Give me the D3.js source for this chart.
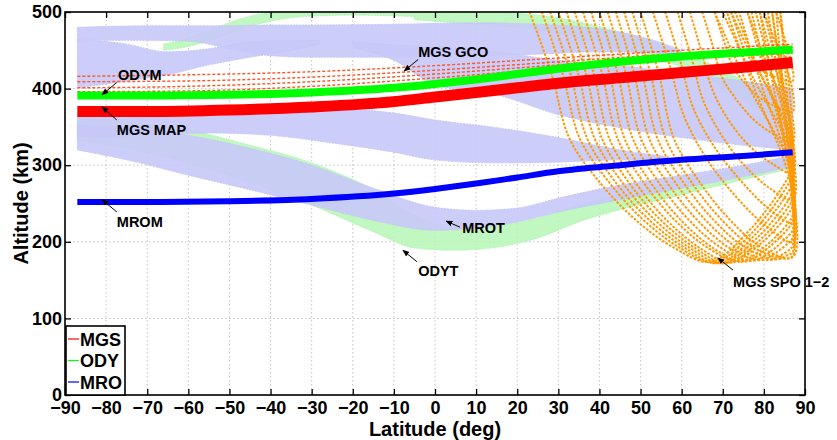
<!DOCTYPE html>
<html>
<head>
<meta charset="utf-8">
<script src="https://cdn.jsdelivr.net/npm/d3@7"></script>
<style>
  body { margin: 0; background: #fff; }
  text { font-family: "Liberation Sans", Arial, sans-serif; font-weight: bold; }
</style>
</head>
<body>
<script>
// mapping orbits (solid thick lines)
var mapLat = [-87, -70, -50, -30, -10, 0, 10, 20, 30, 45, 60, 75, 87];
var mgsMap = [370, 370, 372, 376, 383, 389, 395, 401, 407, 414, 421, 428, 434];
var odyMap = [391, 391, 392, 395, 401, 406, 412, 419, 426, 435, 442, 447, 451];
var mroMap = [252, 252, 253, 256, 263, 269, 276, 284, 292, 300, 307, 312, 317];

// MGS GCO dashed tracks
var gcoLat = [-87, -60, -30, 0, 30, 60, 87];
var gco1 = [416, 418, 422, 430, 440, 450, 458];
var gco2 = [409, 410, 415, 424, 435, 446, 454];
var gco3 = [401, 403, 409, 419, 431, 443, 450];
var gco4 = [396, 397, 403, 414, 427, 439, 446];

// MRO transition bands (upper / lower altitude)
var mroTopLat = [-87, -70, -60, -50, -40, -30, -10, 10, 25, 40, 52, 60];
var mroTopHi  = [480, 482, 482, 482, 483, 483, 484, 486, 484, 478, 465, 450];
var mroTopLo  = [463, 463, 462, 452, 443, 441, 441, 443, 445, 448, 447, 443];
var mroRiseLat = [-87, -76, -65, -55, -45, -35, -28];
var mroRiseHi  = [464, 459, 448, 452, 461, 463, 463];
var mroRiseLo  = [401, 409, 418, 431, 441, 450, 458];
var mroFallLat = [-20, -10, 0, 15, 30, 45, 60, 75, 87];
var mroFallHi  = [461, 457, 454, 448, 437, 430, 420, 410, 400];
var mroFallLo  = [454, 437, 405, 392, 366, 349, 336, 326, 320];
var mroMidLat = [-87, -70, -55, -40, -25, -10, 0, 15, 30, 45, 57];
var mroMidHi  = [368, 368, 372, 377, 375, 368, 359, 349, 336, 320, 311];
var mroMidLo  = [336, 339, 342, 339, 329, 317, 307, 303, 304, 307, 303];
var mroLowLat = [-87, -75, -60, -45, -30, -15, 0, 10, 20, 30, 45, 60, 75, 87];
var mroLowHi  = [352, 349, 339, 322, 300, 270, 245, 241, 244, 257, 274, 287, 300, 313];
var mroLowLo  = [320, 307, 287, 268, 248, 228, 215, 218, 226, 239, 255, 270, 285, 298];

// ODY transition bands
var odyLowLat = [-87, -75, -60, -45, -30, -15, -5, 5, 15, 25, 35, 45, 55, 65, 75, 87];
var odyLowHi  = [362, 356, 346, 326, 303, 268, 235, 218, 221, 231, 248, 261, 274, 285, 296, 313];
var odyLowLo  = [333, 322, 303, 278, 248, 213, 192, 189, 193, 205, 226, 242, 255, 268, 281, 296];
var odyUpLat = [-66, -60, -54, -48, -40, -32, -20, -5];
var odyUpHi  = [458, 466, 478, 490, 500, 504, 505, 505];
var odyUpLo  = [450, 455, 464, 476, 488, 494, 496, 494];
var odyDownLat = [-5, 10, 25, 35, 45, 55, 65, 75, 87];
var odyDownHi  = [500, 500, 496, 487, 474, 457, 437, 411, 385];
var odyDownLo  = [490, 484, 477, 466, 453, 437, 418, 385, 352];

// MGS SPO 1-2 tracks, [lat, alt]
var spoTracks = [
  [[23,500],[28.3,420],[32.7,335],[39.7,280],[48.5,230],[58.2,192],[67,174],[77,218],[86,285],[87,300],[86.5,360],[82.8,440],[80,500]],
  [[26,500],[31,420],[35.2,335],[42,280],[50.4,230],[59.6,192],[68,173],[77.5,214],[86,276],[87,290],[86.5,353],[80.4,437],[76,500]],
  [[28,500],[32.9,420],[37,335],[43.6,280],[51.8,230],[60.8,192],[69,172],[78,210],[86,266],[87,280],[86.5,346],[84,430],[82,500]],
  [[30,500],[34.8,420],[38.8,335],[45.2,280],[53.2,230],[62,192],[70,172],[78.5,206],[86,255],[87,268],[86.5,338],[78,430],[72,500]],
  [[32,500],[36.7,420],[40.6,335],[46.8,280],[54.6,230],[63.2,192],[71,172],[79,202],[86,246],[87,258],[86.5,331],[81.6,427],[78,500]],
  [[34,500],[38.6,420],[42.4,335],[48.4,280],[56,230],[64.4,192],[72,173],[79.5,199],[86,237],[87,248],[86.5,324],[85.2,424],[84,500]],
  [[36,500],[40.6,420],[44.4,335],[50.4,280],[58,230],[66.4,192],[74,174],[80.5,195],[86,225],[87,235],[86.5,315],[76.8,420],[70,500]],
  [[38,500],[42.4,420],[46.1,335],[52.1,280],[59.5,230],[67.6,192],[75,174],[81,192],[86,218],[87,226],[86.5,308],[80.4,418],[76,500]],
  [[40,500],[44.4,420],[48.1,335],[54.1,280],[61.5,230],[69.6,192],[77,175],[82,189],[86,208],[87,215],[86.5,300],[83.4,415],[81,500]],
  [[42,500],[46.4,420],[50.1,335],[56.1,280],[63.5,230],[71.6,192],[79,176],[83,186],[86,199],[87,205],[86.5,294],[75.6,410],[68,500]],
  [[44,500],[48.4,420],[52.1,335],[58.1,280],[65.5,230],[73.6,192],[81,176],[84,182],[86.5,191],[87,195],[86.5,287],[79.2,408],[74,500]],
  [[46,500],[50.4,420],[54.1,335],[60.1,280],[67.5,230],[75.6,192],[83,177],[85.5,182],[87,187],[86.5,281],[82.2,406],[79,500]],
  [[48,500],[52.4,420],[56.1,335],[62.1,280],[69.5,230],[77.6,192],[85,178],[87,182],[86.5,277],[84.6,405],[83,500]],
  [[50,500],[54.4,420],[58.1,335],[64.1,280],[71.5,230],[79.6,192],[87,180],[86.5,276],[77.4,404],[71,500]],
  [[53,500],[57.1,430],[60.5,365],[65.9,310],[72.7,262],[80.2,222],[87,200],[86.5,290],[81,410],[77,500]],
  [[56,500],[59.7,435],[62.8,375],[67.8,325],[74,282],[80.8,245],[87,225],[86.5,308],[84,418],[82,500]],
  [[59,500],[62.4,440],[65.2,385],[69.6,340],[75.2,300],[81.4,270],[87,255],[86.5,329],[78.6,427],[73,500]],
  [[62,500],[65,445],[67.5,398],[71.5,358],[76.5,325],[82,302],[87,290],[86.5,353],[82.2,437],[79,500]],
  [[65,500],[67.6,455],[69.8,415],[73.4,385],[77.8,358],[82.6,340],[87,330],[86.5,381],[85.2,449],[84,500]],
  [[68,500],[70.3,462],[72.2,432],[75.2,408],[79,388],[83.2,376],[87,370],[86.5,409],[82.8,461],[80,500]],
  [[72,500],[73.8,472],[75.3,450],[77.7,432],[80.7,420],[84,413],[87,410],[86.5,437],[84.6,473],[83,500]]
];

// legend and axis ticks
var legendNames = ['MGS', 'ODY', 'MRO'];
var legendColors = ['#ff0000', '#00ff00', '#0000ff'];
var latTicks = d3.range(-90, 91, 10);
var altTicks = [0, 100, 200, 300, 400, 500];

// annotations: text position and arrow (tail -> head), in lat/alt
var notes = [
  { text: 'ODYM',        lat: -77.1, alt: 411,   from: [-77.4, 408], to: [-81.0, 392] },
  { text: 'MGS MAP',     lat: -77.4, alt: 339,   from: [-77.4, 359], to: [-81.0, 376] },
  { text: 'MGS GCO',     lat: -4.1,  alt: 441,   from: [-4.1, 438],  to: [-7.5, 423] },
  { text: 'MROM',        lat: -77.4, alt: 219,   from: [-77.4, 239], to: [-81.0, 255] },
  { text: 'MROT',        lat: 6.6,   alt: 211.5, from: [6.1, 219],   to: [2.7, 227] },
  { text: 'ODYT',        lat: -4.1,  alt: 155,   from: [-4.4, 174],  to: [-7.8, 189] },
  { text: 'MGS SPO 1\u22122', lat: 72.5, alt: 141, from: [72.5, 163], to: [68.8, 179] }
];

var width = 837, height = 440;
var margins = { top: 12, left: 65, right: 32, bottom: 45 };
var plotW = width - margins.left - margins.right;
var plotH = height - margins.top - margins.bottom;

var svg = d3.select('body').append('svg')
  .attr('width', width)
  .attr('height', height);

var xScale = d3.scaleLinear().domain([-90, 90]).range([margins.left, margins.left + plotW]);
var yScale = d3.scaleLinear().domain([0, 500]).range([margins.top + plotH, margins.top]);

var defs = svg.append('defs');
defs.append('clipPath').attr('id', 'plotclip')
  .append('rect')
  .attr('x', margins.left).attr('y', margins.top)
  .attr('width', plotW).attr('height', plotH);
defs.append('marker')
  .attr('id', 'head')
  .attr('viewBox', '0 0 10 10')
  .attr('refX', 9).attr('refY', 5)
  .attr('markerWidth', 7).attr('markerHeight', 7)
  .attr('markerUnits', 'userSpaceOnUse')
  .attr('orient', 'auto')
  .append('path').attr('d', 'M0,1 L10,5 L0,9 Z').attr('fill', '#000');

// grid
var grid = svg.append('g').attr('class', 'grid');
grid.selectAll('line.gx').data(latTicks).enter().append('line')
  .attr('class', 'gx')
  .attr('x1', function(d){ return xScale(d); })
  .attr('x2', function(d){ return xScale(d); })
  .attr('y1', margins.top).attr('y2', margins.top + plotH)
  .attr('stroke', '#c4c4c4').attr('stroke-width', 1).attr('stroke-dasharray', '1.5,2.5');
grid.selectAll('line.gy').data(altTicks).enter().append('line')
  .attr('class', 'gy')
  .attr('y1', function(d){ return yScale(d); })
  .attr('y2', function(d){ return yScale(d); })
  .attr('x1', margins.left).attr('x2', margins.left + plotW)
  .attr('stroke', '#c4c4c4').attr('stroke-width', 1).attr('stroke-dasharray', '1.5,2.5');

var plot = svg.append('g').attr('clip-path', 'url(#plotclip)');

var band = function(lat, hi, lo){
  return lat.map(function(d, i){ return { lat: d, hi: hi[i], lo: lo[i] }; });
};
var area = d3.area()
  .x(function(d){ return xScale(d.lat); })
  .y0(function(d){ return yScale(d.lo); })
  .y1(function(d){ return yScale(d.hi); })
  .curve(d3.curveMonotoneX);

var odyBands = [
  band(odyLowLat, odyLowHi, odyLowLo),
  band(odyUpLat, odyUpHi, odyUpLo),
  band(odyDownLat, odyDownHi, odyDownLo)
];
var mroBands = [
  band(mroTopLat, mroTopHi, mroTopLo),
  band(mroRiseLat, mroRiseHi, mroRiseLo),
  band(mroFallLat, mroFallHi, mroFallLo),
  band(mroMidLat, mroMidHi, mroMidLo),
  band(mroLowLat, mroLowHi, mroLowLo)
];

plot.selectAll('path.ody').data(odyBands).enter().append('path')
  .attr('class', 'ody')
  .attr('d', area)
  .attr('fill', '#b6f6b6').attr('fill-opacity', 0.85)
  .attr('stroke', '#b6f6b6').attr('stroke-width', 1).attr('stroke-dasharray', '2,1');
plot.selectAll('path.mro').data(mroBands).enter().append('path')
  .attr('class', 'mro')
  .attr('d', area)
  .attr('fill', '#c8c8f8').attr('fill-opacity', 0.9)
  .attr('stroke', '#c8c8f8').attr('stroke-width', 1).attr('stroke-dasharray', '2,1');

// SPO tracks
var trackLine = d3.line()
  .x(function(d){ return xScale(d[0]); })
  .y(function(d){ return yScale(d[1]); })
  .curve(d3.curveCatmullRom.alpha(0.5));
plot.selectAll('path.spo').data(spoTracks).enter().append('path')
  .attr('class', 'spo')
  .attr('d', trackLine)
  .attr('fill', 'none')
  .attr('stroke', '#ff9900').attr('stroke-width', 2).attr('stroke-dasharray', '2.5,1.5');

// GCO tracks
var gcoLine = d3.line()
  .x(function(d, i){ return xScale(gcoLat[i]); })
  .y(function(d){ return yScale(d); })
  .curve(d3.curveMonotoneX);
plot.selectAll('path.gco').data([gco1, gco2, gco3, gco4]).enter().append('path')
  .attr('class', 'gco')
  .attr('d', gcoLine)
  .attr('fill', 'none')
  .attr('stroke', '#ff5522').attr('stroke-width', 1.4).attr('stroke-dasharray', '3,2');

// mapping orbits
var mapLine = d3.line()
  .x(function(d, i){ return xScale(mapLat[i]); })
  .y(function(d){ return yScale(d); })
  .curve(d3.curveMonotoneX);
var maps = [
  { vals: mroMap, color: '#0000ff', w: 6 },
  { vals: mgsMap, color: '#ff0000', w: 11 },
  { vals: odyMap, color: '#00ff00', w: 8 }
];
plot.selectAll('path.map').data(maps).enter().append('path')
  .attr('class', 'map')
  .attr('d', function(d){ return mapLine(d.vals); })
  .attr('fill', 'none')
  .attr('stroke', function(d){ return d.color; })
  .attr('stroke-width', function(d){ return d.w; });

// box and inward ticks
svg.append('rect')
  .attr('x', margins.left).attr('y', margins.top)
  .attr('width', plotW).attr('height', plotH)
  .attr('fill', 'none').attr('stroke', '#000').attr('stroke-width', 1.6);

var xAxis = d3.axisBottom(xScale).tickValues(latTicks).tickSizeInner(-6).tickSizeOuter(0).tickPadding(6);
var yAxis = d3.axisLeft(yScale).tickValues(altTicks).tickSizeInner(-6).tickSizeOuter(0).tickPadding(3);
var gx = svg.append('g').attr('transform', 'translate(0,' + (margins.top + plotH) + ')').call(xAxis);
var gy = svg.append('g').attr('transform', 'translate(' + margins.left + ',0)').call(yAxis);
svg.append('g').attr('transform', 'translate(0,' + margins.top + ')')
  .call(d3.axisTop(xScale).tickValues(latTicks).tickSizeInner(-6).tickSizeOuter(0).tickFormat(''));
svg.append('g').attr('transform', 'translate(' + (margins.left + plotW) + ',0)')
  .call(d3.axisRight(yScale).tickValues(altTicks).tickSizeInner(-6).tickSizeOuter(0).tickFormat(''));
svg.selectAll('.domain').remove();
svg.selectAll('.tick line').attr('stroke', '#000').attr('stroke-width', 1.3);
gx.selectAll('text').attr('font-size', 18).attr('fill', '#000');
gy.selectAll('text').attr('font-size', 18).attr('fill', '#000');

// axis labels
svg.append('text')
  .attr('x', xScale(0)).attr('y', 436)
  .attr('text-anchor', 'middle').attr('font-size', 20)
  .text('Latitude (deg)');
svg.append('text')
  .attr('transform', 'translate(28,' + yScale(250) + ') rotate(-90)')
  .attr('text-anchor', 'middle').attr('font-size', 20)
  .text('Altitude (km)');

// annotations
var ann = svg.append('g');
ann.selectAll('line').data(notes).enter().append('line')
  .attr('x1', function(d){ return xScale(d.from[0]); })
  .attr('y1', function(d){ return yScale(d.from[1]); })
  .attr('x2', function(d){ return xScale(d.to[0]); })
  .attr('y2', function(d){ return yScale(d.to[1]); })
  .attr('stroke', '#000').attr('stroke-width', 1)
  .attr('marker-end', 'url(#head)');
ann.selectAll('text').data(notes).enter().append('text')
  .attr('x', function(d){ return xScale(d.lat); })
  .attr('y', function(d){ return yScale(d.alt); })
  .attr('font-size', 14.5)
  .text(function(d){ return d.text; });

// legend
var legend = svg.append('g');
legend.append('rect')
  .attr('x', 66).attr('y', 326).attr('width', 59).attr('height', 69)
  .attr('fill', '#fff').attr('stroke', '#000').attr('stroke-width', 1.6);
legendNames.forEach(function(name, i){
  var yy = 339 + i * 21.5;
  legend.append('line')
    .attr('x1', 68).attr('x2', 79).attr('y1', yy).attr('y2', yy)
    .attr('stroke', legendColors[i]).attr('stroke-width', 1.2);
  legend.append('text')
    .attr('x', 80).attr('y', yy + 6.5)
    .attr('font-size', 18)
    .text(name);
});
</script>
</body>
</html>
